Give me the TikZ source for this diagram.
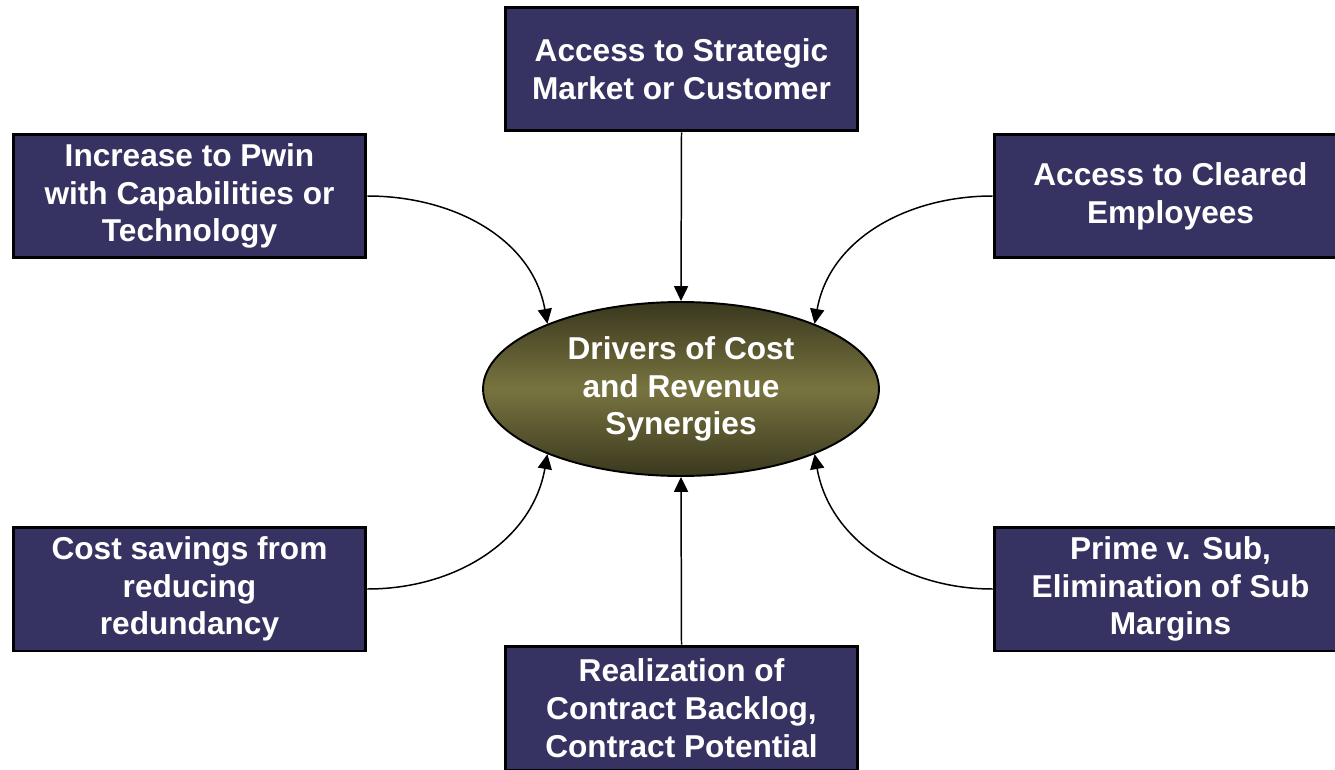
\documentclass[tikz,border=0pt]{standalone}
\usepackage{fontspec}
\setmainfont{Liberation Sans}
\usetikzlibrary{shapes.geometric,arrows.meta}
\definecolor{boxblue}{RGB}{54,51,98}
\definecolor{olivemid}{RGB}{120,116,64}
\definecolor{olivedark}{RGB}{58,56,30}
\begin{document}
\begin{tikzpicture}[x=0.02cm,y=0.02cm,
  box/.style={draw=black,line width=1.7pt,fill=boxblue,text=white,
    minimum width=7.06cm,minimum height=2.48cm,inner sep=0pt,align=center,
    font=\bfseries\fontsize{18}{21.5}\selectfont},
  hub/.style={ellipse,draw=black,line width=1.1pt,
    top color=olivedark,bottom color=olivedark,middle color=olivemid,
    text=white,minimum width=7.92cm,minimum height=3.48cm,inner sep=0pt,align=center,
    font=\bfseries\fontsize{18}{21.5}\selectfont},
  conn/.style={line width=0.85pt,-{Triangle[length=8.5pt,width=8pt]}}]
\useasboundingbox (0,0) rectangle (1335,769);
\node[hub] (ctr) at (681,380) {Drivers of Cost\\and Revenue\\Synergies};
\node[box] (top) at (681.5,700) {Access to Strategic\\Market or Customer};
\node[box] (lt) at (189.5,573) {Increase to Pwin\\with Capabilities or\\Technology};
\node[box] (rt) at (1170.5,573) {Access to Cleared\\Employees};
\node[box] (lb) at (189.5,180) {Cost savings from\\reducing\\redundancy};
\node[box] (rb) at (1170.5,180) {Prime v. Sub,\\Elimination of Sub\\Margins};
\node[box] (bot) at (681.5,61) {Realization of\\Contract Backlog,\\Contract Potential};
\draw[conn] (top.south) -- (ctr.north);
\draw[conn] (bot.north) -- (ctr.south);
\draw[conn] (lt.east) to[out=0,in=100] (ctr.154);
\draw[conn] (rt.west) to[out=180,in=80] (ctr.26);
\draw[conn] (lb.east) to[out=0,in=-100] (ctr.206);
\draw[conn] (rb.west) to[out=180,in=-80] (ctr.334);
\end{tikzpicture}
\end{document}
